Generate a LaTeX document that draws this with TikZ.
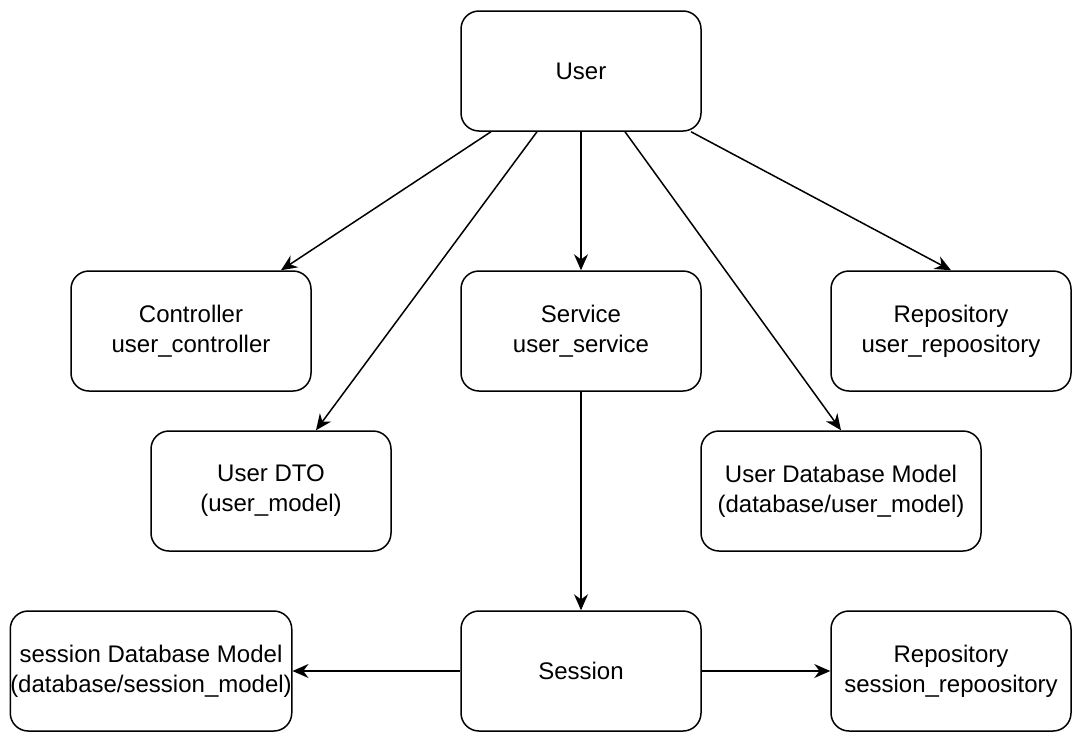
\documentclass[tikz,border=0pt]{standalone}
\usepackage{fontspec}
\setmainfont{Liberation Sans}
\usetikzlibrary{arrows.meta}

\tikzset{
  box/.style={draw, line width=1.5pt, rounded corners=18pt, align=center,
    minimum width=240pt, minimum height=120pt, inner sep=0pt,
    font=\fontsize{24}{30}\selectfont},
  widebox/.style={box, minimum width=280pt},
  link/.style={->, line width=1.5pt},
}

\begin{document}
\begin{tikzpicture}[>={Stealth[length=16pt,width=14pt]}, x=1pt, y=-1pt]
\useasboundingbox (0,0) rectangle (1082,742);

% Boxes
\node[box] (user) at (581,71) {User};
\node[box] (ctrl) at (191,331) {Controller\\user\_controller};
\node[box] (serv) at (581,331) {Service\\user\_service};
\node[box] (urepo) at (951,331) {Repository\\user\_repoository};
\node[box] (dto) at (271,491) {User DTO\\(user\_model)};
\node[widebox] (udb) at (841,491) {User Database Model\\(database/user\_model)};
\node[widebox] (sdb) at (151,671) {session Database Model\\(database/session\_model)};
\node[box] (sess) at (581,671) {Session};
\node[box] (srepo) at (951,671) {Repository\\session\_repoository};

% User links
\draw[link] ([xshift=-90pt]user.south) -- ([xshift=90pt]ctrl.north);
\draw[link] ([xshift=-44pt]user.south) -- ([xshift=45pt]dto.north);
\draw[link] (user.south) -- (serv.north);
\draw[link] ([xshift=44pt]user.south) -- (udb.north);
\draw[link] ([xshift=110pt]user.south) -- (urepo.north);

% Session links
\draw[link] (serv.south) -- (sess.north);
\draw[link] (sess.west) -- (sdb.east);
\draw[link] (sess.east) -- (srepo.west);

\end{tikzpicture}
\end{document}
